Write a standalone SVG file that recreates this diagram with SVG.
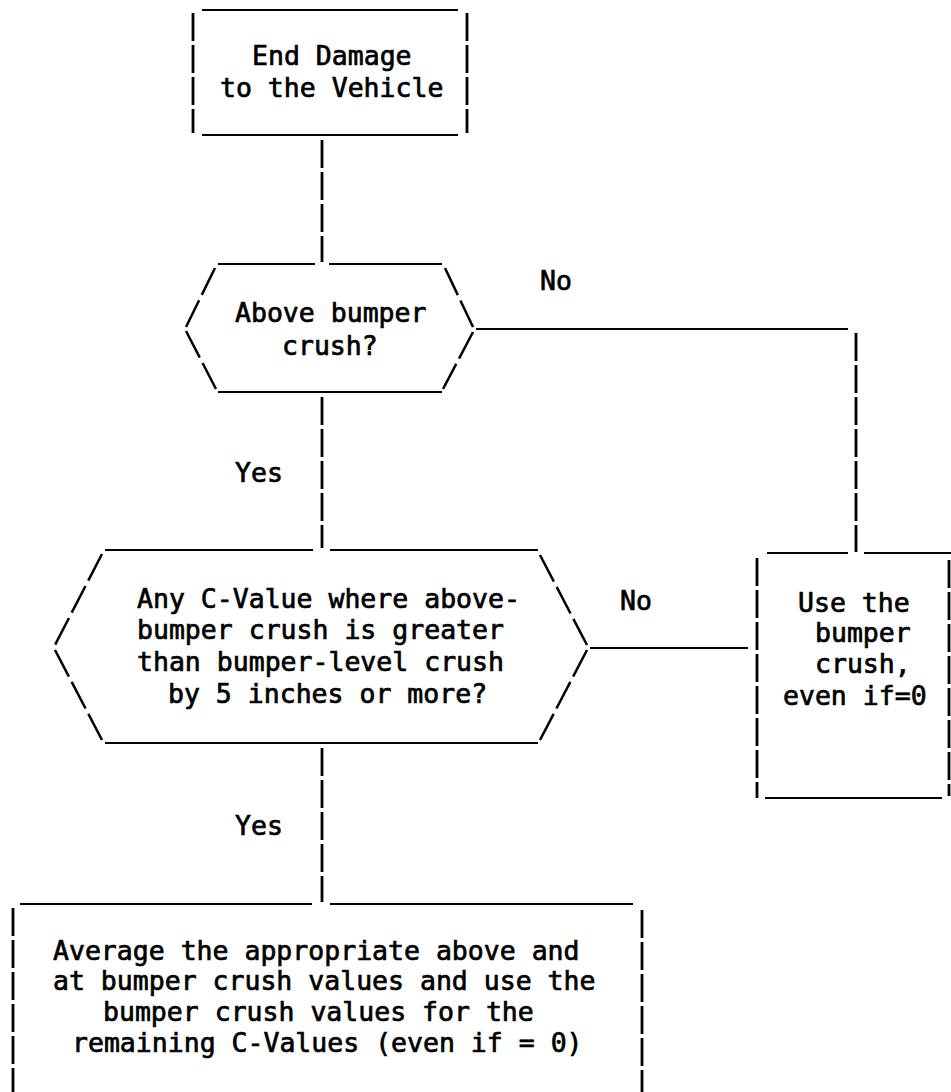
<svg xmlns="http://www.w3.org/2000/svg" width="951" height="1092" viewBox="0 0 951 1092">
<style>
.t{font-family:"DejaVu Sans Mono","Liberation Mono",monospace;font-size:26.5px;fill:#000;stroke:#000;stroke-width:0.7px;}
.h{stroke:#000;stroke-width:2.2;fill:none;}
.v{stroke:#000;stroke-width:2.8;fill:none;stroke-dasharray:28 4;}
.d{stroke:#000;stroke-width:2.5;fill:none;stroke-dasharray:30 6;}
</style>
<rect width="951" height="1092" fill="#fff"/>
<g id="connectors">
<line class="v" x1="322" y1="140" x2="322" y2="262"/>
<line class="v" x1="322" y1="397" x2="322" y2="548"/>
<line class="v" x1="322" y1="748" x2="322" y2="902"/>
<line class="h" x1="476" y1="329" x2="848" y2="329"/>
<line class="v" x1="856" y1="333" x2="856" y2="552"/>
<line class="h" x1="590" y1="648" x2="748" y2="648"/>
<text class="t" x="540" y="290">No</text>
<text class="t" x="235" y="482">Yes</text>
<text class="t" x="620" y="610">No</text>
<text class="t" x="235" y="835">Yes</text>
</g>
<g id="start">
<line class="h" x1="202" y1="10" x2="458" y2="10"/>
<line class="h" x1="202" y1="135" x2="458" y2="135"/>
<line class="v" x1="193" y1="13" x2="193" y2="133"/>
<line class="v" x1="467" y1="13" x2="467" y2="133"/>
<text class="t" x="252" y="65">End Damage</text>
<text class="t" x="220" y="97">to the Vehicle</text>
</g>
<g id="decision1">
<line class="h" x1="218" y1="264" x2="315" y2="264"/>
<line class="h" x1="329" y1="264" x2="442" y2="264"/>
<line class="h" x1="218" y1="392" x2="442" y2="392"/>
<line class="d" x1="215" y1="268" x2="186" y2="327"/>
<line class="d" x1="186" y1="331" x2="216" y2="389"/>
<line class="d" x1="445" y1="268" x2="473" y2="327"/>
<line class="d" x1="473" y1="332" x2="443" y2="389"/>
<text class="t" x="235" y="322">Above bumper</text>
<text class="t" x="282" y="355">crush?</text>
</g>
<g id="decision2">
<line class="h" x1="105" y1="550" x2="313" y2="550"/>
<line class="h" x1="330" y1="550" x2="538" y2="550"/>
<line class="h" x1="105" y1="743" x2="538" y2="743"/>
<line class="d" x1="102" y1="554" x2="55" y2="645"/>
<line class="d" x1="55" y1="650" x2="102" y2="740"/>
<line class="d" x1="540" y1="555" x2="587" y2="645"/>
<line class="d" x1="587" y1="650" x2="540" y2="740"/>
<text class="t" x="137" y="608">Any C-Value where above-</text>
<text class="t" x="137" y="639">bumper crush is greater</text>
<text class="t" x="137" y="671">than bumper-level crush</text>
<text class="t" x="168" y="703">by 5 inches or more?</text>
</g>
<g id="use-bumper">
<line class="h" x1="767" y1="553" x2="848" y2="553"/>
<line class="h" x1="864" y1="553" x2="951" y2="553"/>
<line class="h" x1="765" y1="798" x2="942" y2="798"/>
<line class="v" x1="757" y1="558" x2="757" y2="798"/>
<line class="v" x1="949" y1="560" x2="949" y2="796"/>
<text class="t" x="798" y="612">Use the</text>
<text class="t" x="815" y="642">bumper</text>
<text class="t" x="815" y="673">crush,</text>
<text class="t" x="783" y="705">even if=0</text>
</g>
<g id="average">
<line class="h" x1="20" y1="904" x2="312" y2="904"/>
<line class="h" x1="330" y1="904" x2="633" y2="904"/>
<line class="v" x1="13" y1="908" x2="13" y2="1092"/>
<line class="v" x1="642" y1="910" x2="642" y2="1092"/>
<text class="t" x="53" y="960">Average the appropriate above and</text>
<text class="t" x="53" y="990">at bumper crush values and use the</text>
<text class="t" x="103" y="1021">bumper crush values for the</text>
<text class="t" x="72" y="1052">remaining C-Values (even if = 0)</text>
</g>
</svg>
